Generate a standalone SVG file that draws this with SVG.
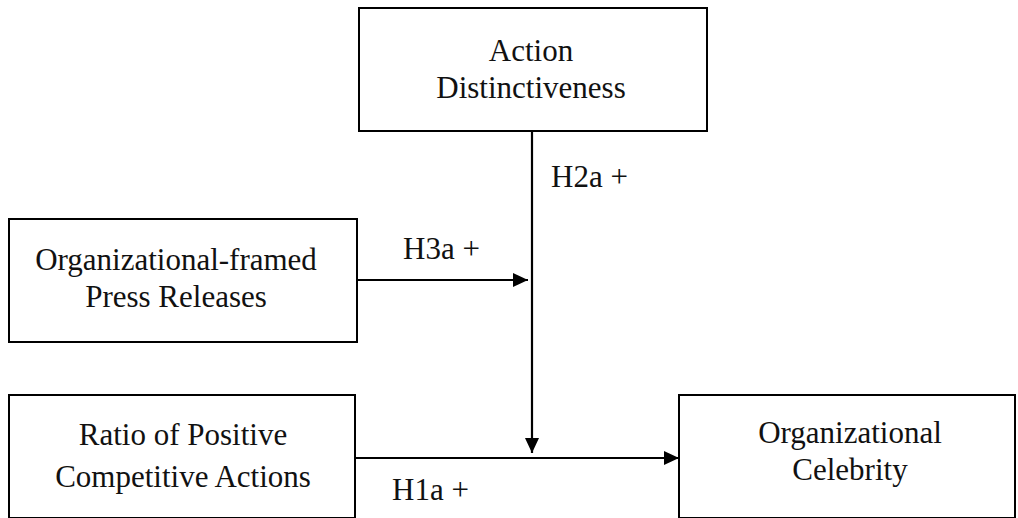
<svg xmlns="http://www.w3.org/2000/svg" width="1018" height="518" viewBox="0 0 1018 518">
<style>
.box{fill:#fff;stroke:#000;stroke-width:2}
.t{font-family:"Liberation Serif","Times New Roman",serif;font-size:31px;fill:#111}
.c{text-anchor:middle}
.ln{stroke:#000;stroke-width:2.2;fill:none}
</style>
<defs>
<marker id="ah" markerUnits="userSpaceOnUse" markerWidth="16" markerHeight="16" refX="15" refY="8" orient="auto">
<path d="M0,1 L15,8 L0,15 Z" fill="#000"/>
</marker>
</defs>
<rect width="1018" height="518" fill="#fff"/>
<g id="connectors">
<line class="ln" x1="532" y1="131" x2="532" y2="453" marker-end="url(#ah)"/>
<line class="ln" x1="357" y1="280" x2="528" y2="280" marker-end="url(#ah)"/>
<line class="ln" x1="355" y1="458" x2="679" y2="458" marker-end="url(#ah)"/>
<text class="t" x="551" y="187">H2a +</text>
<text class="t" x="403" y="259">H3a +</text>
<text class="t" x="392" y="500">H1a +</text>
</g>
<g id="action-distinctiveness">
<rect class="box" x="359" y="8" width="348" height="123"/>
<text class="t c" x="531" y="61">Action</text>
<text class="t c" x="531" y="98">Distinctiveness</text>
</g>
<g id="press-releases">
<rect class="box" x="9" y="219" width="348" height="123"/>
<text class="t c" x="176" y="270">Organizational-framed</text>
<text class="t c" x="176" y="307">Press Releases</text>
</g>
<g id="ratio-positive">
<rect class="box" x="9" y="395" width="346" height="123"/>
<text class="t c" x="183" y="445">Ratio of Positive</text>
<text class="t c" x="183" y="487">Competitive Actions</text>
</g>
<g id="organizational-celebrity">
<rect class="box" x="679" y="395" width="336" height="123"/>
<text class="t c" x="850" y="443">Organizational</text>
<text class="t c" x="850" y="480">Celebrity</text>
</g>
</svg>
